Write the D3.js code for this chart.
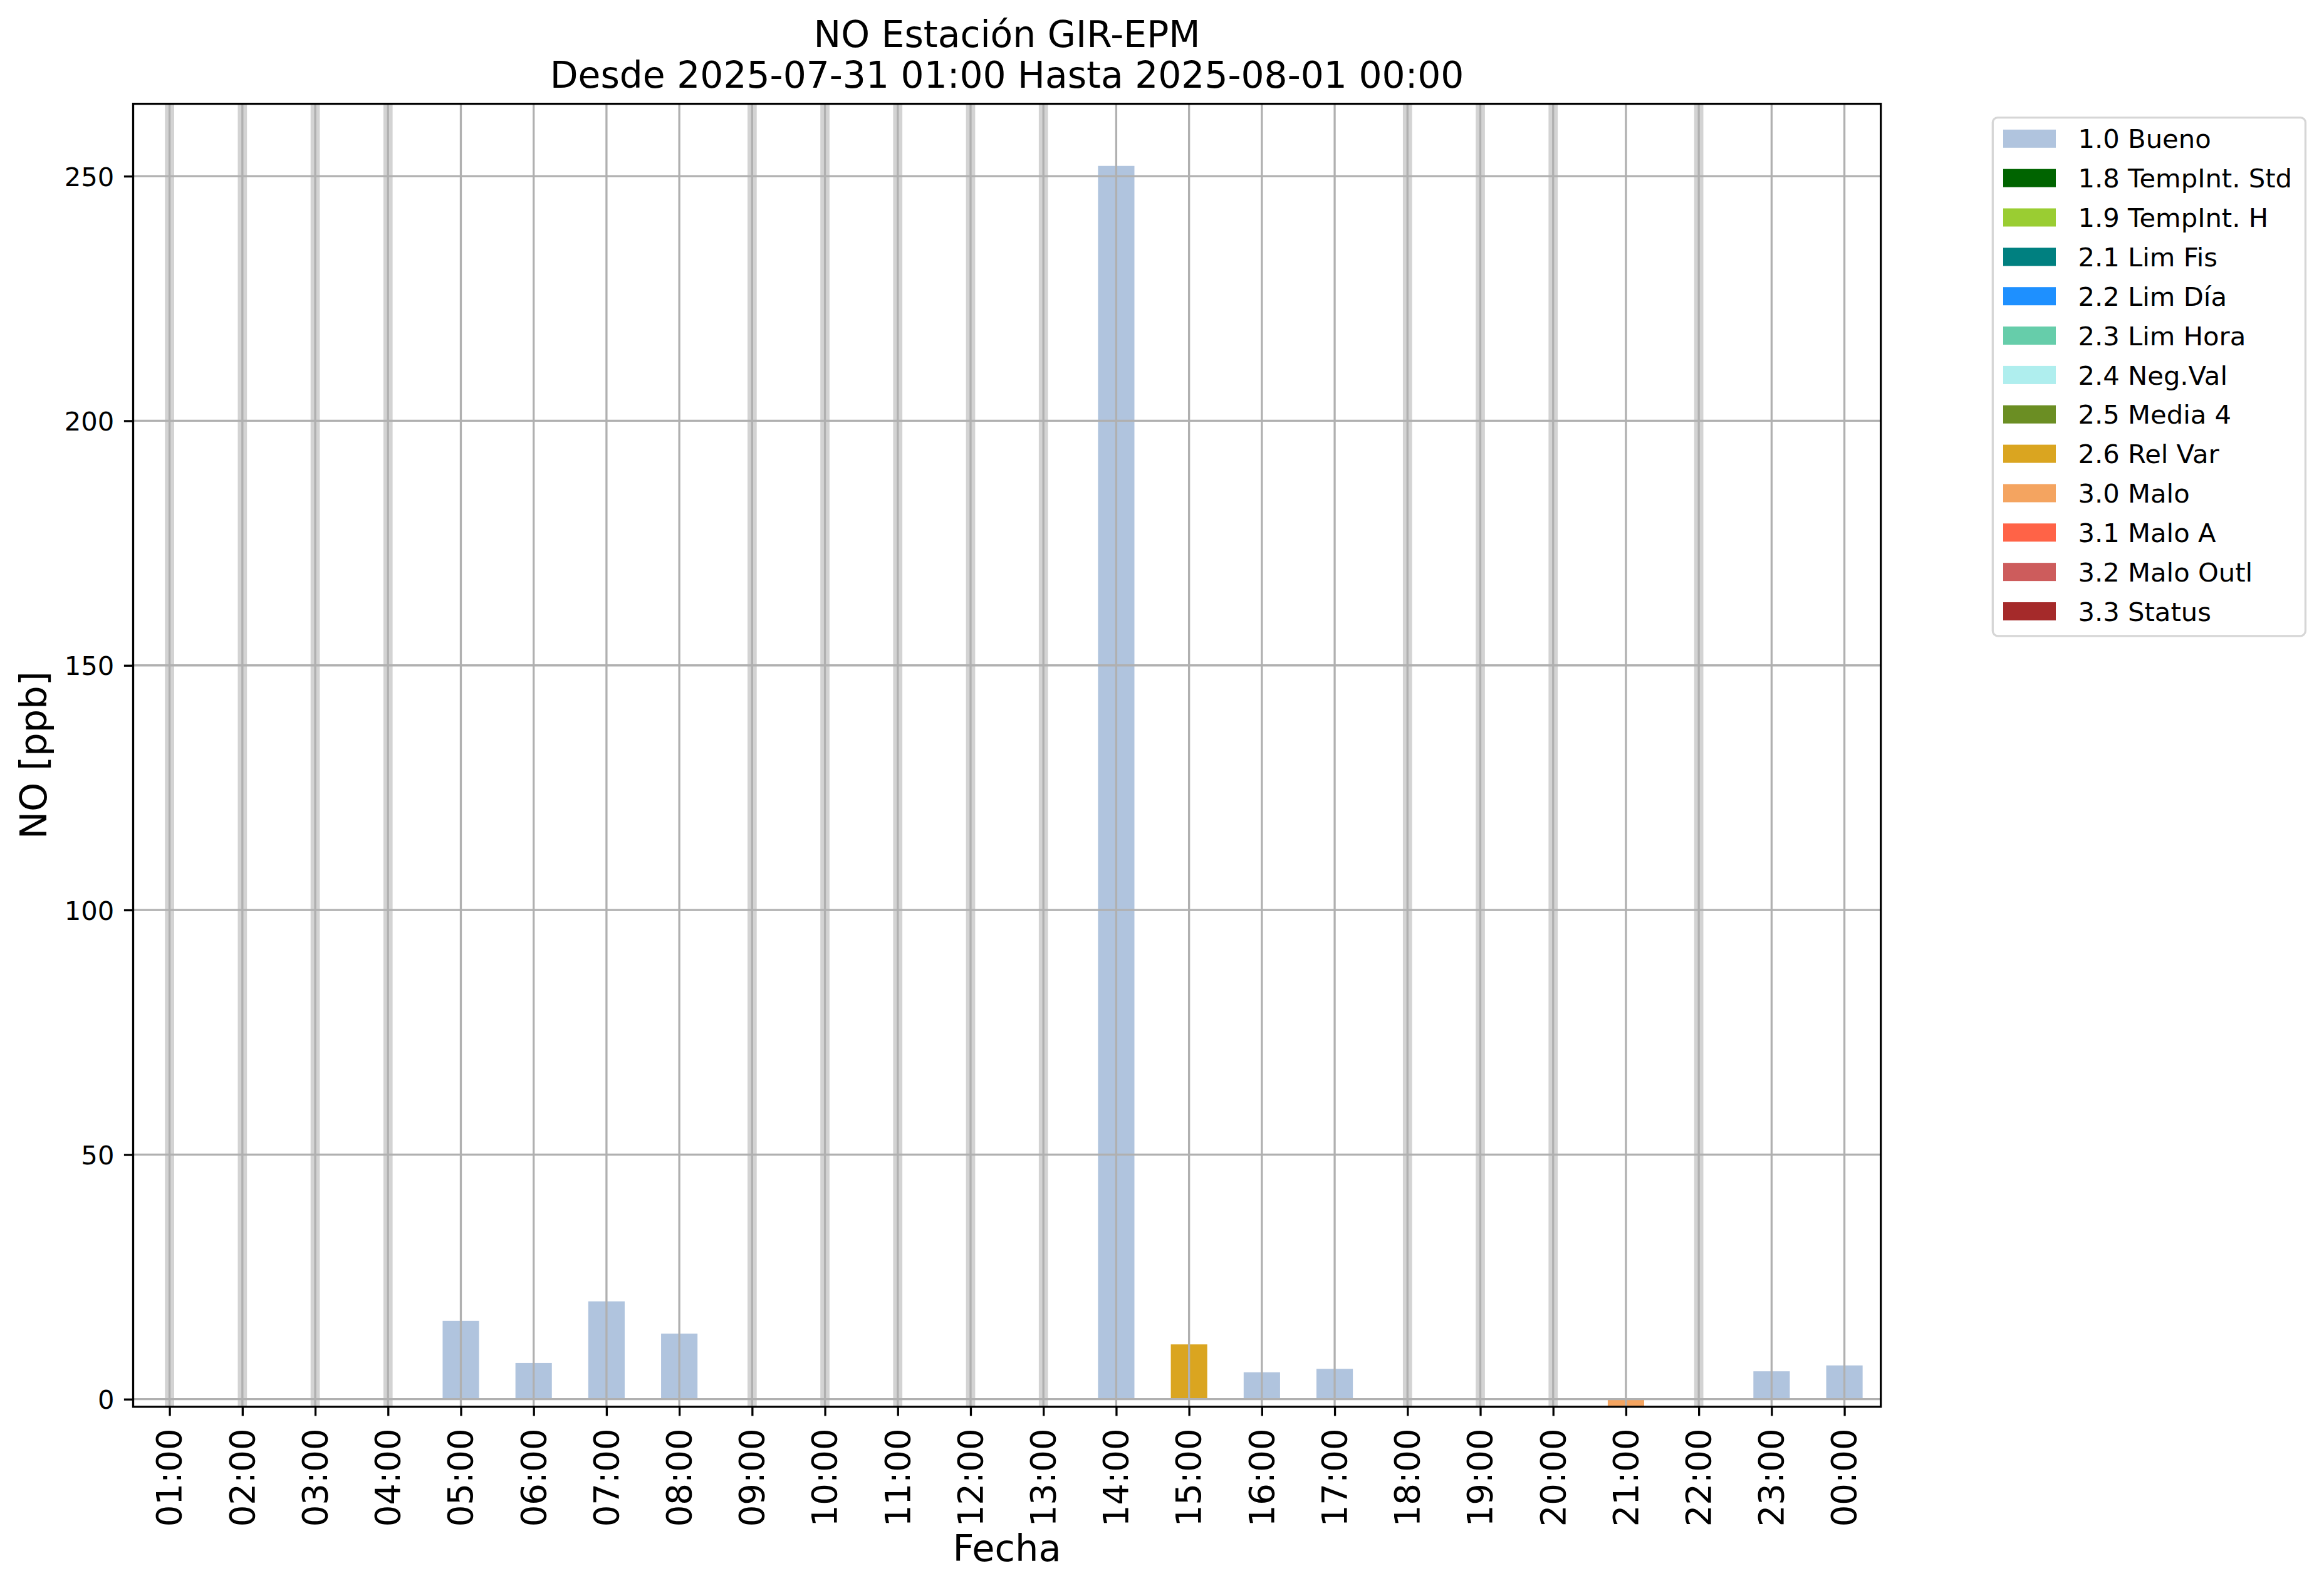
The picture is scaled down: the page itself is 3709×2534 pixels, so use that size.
<!DOCTYPE html>
<html><head><meta charset="utf-8">
<script src="https://cdn.jsdelivr.net/npm/d3@7"></script>
<style>
html,body{margin:0;padding:0;background:#fff;}
svg{display:block;}
text{font-family:"DejaVu Sans",sans-serif;fill:#000;}
</style>
</head><body>
<script>
// ---- data ----
const hours = ["01:00","02:00","03:00","04:00","05:00","06:00","07:00","08:00","09:00","10:00","11:00","12:00",
               "13:00","14:00","15:00","16:00","17:00","18:00","19:00","20:00","21:00","22:00","23:00","00:00"];
const values = [null,null,null,null,16.0,7.4,20.0,13.4,null,null,null,null,
                null,252.1,11.2,5.5,6.2,null,null,null,-1.6,null,5.7,6.9];
const flags  = [null,null,null,null,"1.0","1.0","1.0","1.0",null,null,null,null,
                null,"1.0","2.6","1.0","1.0",null,null,null,"3.0",null,"1.0","1.0"];
const legendCodes  = ["1.0","1.8","1.9","2.1","2.2","2.3","2.4","2.5","2.6","3.0","3.1","3.2","3.3"];
const legendLabels = ["1.0 Bueno","1.8 TempInt. Std","1.9 TempInt. H","2.1 Lim Fis","2.2 Lim Día","2.3 Lim Hora",
                      "2.4 Neg.Val","2.5 Media 4","2.6 Rel Var","3.0 Malo","3.1 Malo A","3.2 Malo Outl","3.3 Status"];
const legendColors = ["#b0c4de","#006400","#9acd32","#008080","#1e90ff","#66cdaa",
                      "#afeeee","#6b8e23","#daa520","#f4a460","#ff6347","#cd5c5c","#a52a2a"];
const yTicks = [0,50,100,150,200,250];
const yDomain = [-1.55, 264.8];
const titleLines = ["NO Estación GIR-EPM","Desde 2025-07-31 01:00 Hasta 2025-08-01 00:00"];
const xLabel = "Fecha";
const yLabel = "NO [ppb]";

// ---- layout ----
const W = 3709, H = 2534;
const L = 212.5, R = 3001.7, T = 165.6, B = 2244.8;
const lw = 3.3;
const tickFont = 41.7, xTickFont = 54.5, labelFont = 59, titleFont = 58.3, legFont = 41.7;

const svg = d3.select("body").append("svg").attr("width", W).attr("height", H);
svg.append("rect").attr("width", W).attr("height", H).attr("fill", "#fff");

const x = d3.scalePoint().domain(hours).range([L, R]).padding(0.5);
const y = d3.scaleLinear().domain(yDomain).range([B, T]);
const colorOf = d3.scaleOrdinal().domain(legendCodes).range(legendColors);
const step = x.step();

svg.append("defs").append("clipPath").attr("id", "clip")
  .append("rect").attr("x", L).attr("y", T).attr("width", R - L).attr("height", B - T);

const plot = svg.append("g").attr("clip-path", "url(#clip)");

// missing-data bands
const data = hours.map((h, i) => ({h, v: values[i], f: flags[i]}));
plot.selectAll("line.miss").data(data.filter(d => d.v === null)).enter().append("line")
  .attr("x1", d => x(d.h)).attr("x2", d => x(d.h)).attr("y1", T).attr("y2", B)
  .attr("stroke", "#d3d3d3").attr("stroke-width", 14.7);

// bars
plot.selectAll("rect.bar").data(data.filter(d => d.v !== null)).enter().append("rect")
  .attr("x", d => x(d.h) - step * 0.25).attr("width", step * 0.5)
  .attr("y", d => Math.min(y(d.v), y(0))).attr("height", d => Math.abs(y(d.v) - y(0)))
  .attr("fill", d => colorOf(d.f));

// grid
plot.selectAll("line.gx").data(hours).enter().append("line")
  .attr("x1", d => x(d)).attr("x2", d => x(d)).attr("y1", T).attr("y2", B)
  .attr("stroke", "#b0b0b0").attr("stroke-width", lw);
plot.selectAll("line.gy").data(yTicks).enter().append("line")
  .attr("x1", L).attr("x2", R).attr("y1", d => y(d)).attr("y2", d => y(d))
  .attr("stroke", "#b0b0b0").attr("stroke-width", lw);

// axes
const yAxis = svg.append("g").attr("transform", `translate(${L},0)`)
  .call(d3.axisLeft(y).tickValues(yTicks).tickSize(14.6).tickPadding(15.5).tickFormat(d3.format("d")));
yAxis.select(".domain").remove();
yAxis.selectAll(".tick line").attr("stroke", "#000").attr("stroke-width", lw);
yAxis.selectAll(".tick text").attr("font-size", tickFont).attr("font-family", "DejaVu Sans")
  .attr("dy", "0.364em");

const xAxis = svg.append("g").attr("transform", `translate(0,${B})`)
  .call(d3.axisBottom(x).tickSize(14.6));
xAxis.select(".domain").remove();
xAxis.selectAll(".tick line").attr("stroke", "#000").attr("stroke-width", lw);
xAxis.selectAll(".tick text").attr("font-size", xTickFont).attr("font-family", "DejaVu Sans")
  .attr("transform", "rotate(-90)").attr("text-anchor", "end")
  .attr("x", -34.5).attr("y", -1.5).attr("dy", "0.364em");

// spines
svg.append("rect").attr("x", L).attr("y", T).attr("width", R - L).attr("height", B - T)
  .attr("fill", "none").attr("stroke", "#000").attr("stroke-width", lw);

// labels
svg.append("text").attr("x", (L + R) / 2).attr("y", 2491).attr("text-anchor", "middle")
  .attr("font-size", labelFont).text(xLabel);
svg.append("text").attr("transform", `translate(74,${(T + B) / 2}) rotate(-90)`).attr("text-anchor", "middle")
  .attr("font-size", labelFont).text(yLabel);
svg.selectAll("text.title").data(titleLines).enter().append("text")
  .attr("x", (L + R) / 2).attr("y", (d, i) => 75 + i * 65).attr("text-anchor", "middle")
  .attr("font-size", titleFont).text(d => d);

// legend
const lg = svg.append("g");
lg.append("rect").attr("x", 3180.3).attr("y", 187.6).attr("width", 3679.4 - 3180.3).attr("height", 1014.8 - 187.6)
  .attr("rx", 8).attr("fill", "#fff").attr("stroke", "#d6d6d6").attr("stroke-width", lw);
const rowY = i => 221.3 + i * 62.85;
lg.selectAll("rect.h").data(legendLabels).enter().append("rect")
  .attr("x", 3197).attr("width", 84).attr("y", (d, i) => rowY(i) - 14.5).attr("height", 29)
  .attr("fill", (d, i) => legendColors[i]);
lg.selectAll("text.l").data(legendLabels).enter().append("text")
  .attr("x", 3316.5).attr("y", (d, i) => rowY(i)).attr("dy", "0.364em")
  .attr("font-size", legFont).text(d => d);
</script>
</body></html>
